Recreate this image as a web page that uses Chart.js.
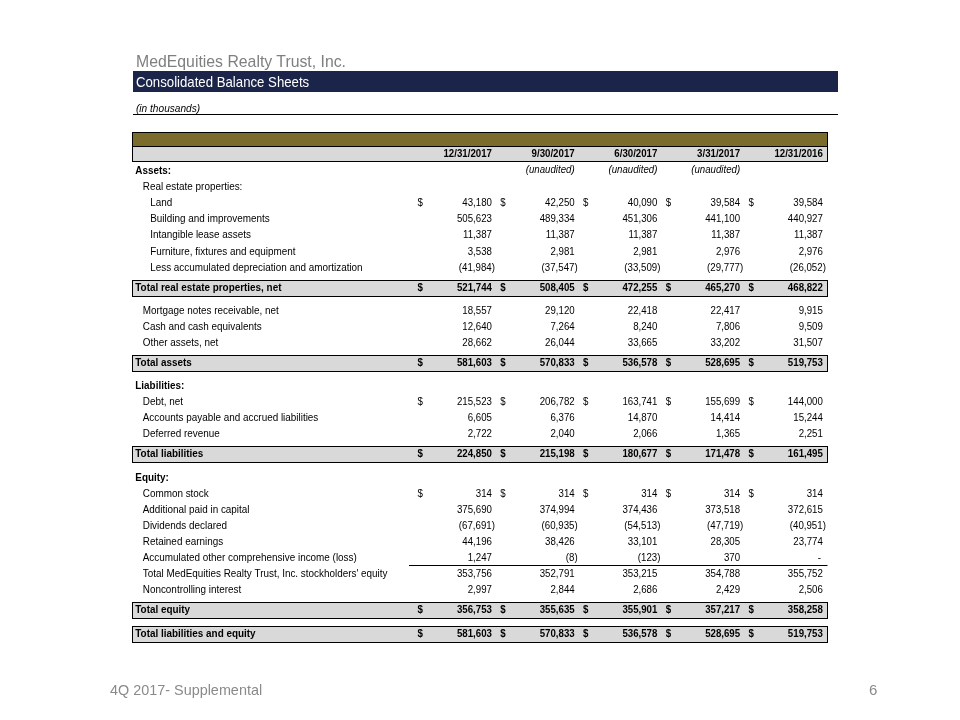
<!DOCTYPE html>
<html>
<head>
<meta charset="utf-8">
<title>Consolidated Balance Sheets</title>
<script src="https://cdn.jsdelivr.net/npm/chart.js@4.4.0/dist/chart.umd.min.js"></script>
<style>
  body { margin: 0; background: #fff; }
  #page { position: relative; width: 960px; height: 720px; overflow: hidden;
          font-family: "Liberation Sans", sans-serif; }
  #sheet { position: absolute; left: 0; top: 0; }
  .squeeze { display: inline-block; transform-origin: left center; white-space: nowrap; }
  .company { position: absolute; left: 136px; top: 51px; font-size: 17px; line-height: 22px; color: #7f7f7f; }
  .band { position: absolute; left: 133px; top: 71px; width: 705px; height: 21px; background: #1b2449;
          color: #fff; font-size: 15px; line-height: 21px; padding-left: 3px; box-sizing: border-box; }
  .units { position: absolute; left: 133px; top: 101px; width: 705px; height: 14px; border-bottom: 1px solid #000;
           font-style: italic; font-size: 11px; line-height: 14px; padding-left: 3px; box-sizing: border-box; }
  .foot { position: absolute; top: 681px; font-size: 15px; line-height: 18px; color: #8a8a8a; }
</style>
</head>
<body>
<div id="page">
  <canvas id="sheet" width="960" height="720"></canvas>
  <div class="company"><span class="squeeze" style="transform:scaleX(0.93)">MedEquities Realty Trust, Inc.</span></div>
  <div class="band"><span class="squeeze" style="transform:scaleX(0.88)">Consolidated Balance Sheets</span></div>
  <div class="units"><span class="squeeze" style="transform:scaleX(0.92)">(in thousands)</span></div>
  <div class="foot" style="left:110px"><span class="squeeze" style="transform:scaleX(0.96)">4Q 2017- Supplemental</span></div>
  <div class="foot" style="left:869px">6</div>
</div>
<script>
'use strict';

// column headers
const periods = ['12/31/2017', '9/30/2017', '6/30/2017', '3/31/2017', '12/31/2016'];
const auditStatus = ['', '(unaudited)', '(unaudited)', '(unaudited)', ''];

// line items (in thousands)
const land = [43180, 42250, 40090, 39584, 39584];
const buildings = [505623, 489334, 451306, 441100, 440927];
const leaseAssets = [11387, 11387, 11387, 11387, 11387];
const furniture = [3538, 2981, 2981, 2976, 2976];
const accumDepreciation = [-41984, -37547, -33509, -29777, -26052];
const totalRealEstate = [521744, 508405, 472255, 465270, 468822];
const mortgageNotes = [18557, 29120, 22418, 22417, 9915];
const cash = [12640, 7264, 8240, 7806, 9509];
const otherAssets = [28662, 26044, 33665, 33202, 31507];
const totalAssets = [581603, 570833, 536578, 528695, 519753];
const debt = [215523, 206782, 163741, 155699, 144000];
const accountsPayable = [6605, 6376, 14870, 14414, 15244];
const deferredRevenue = [2722, 2040, 2066, 1365, 2251];
const totalLiabilities = [224850, 215198, 180677, 171478, 161495];
const commonStock = [314, 314, 314, 314, 314];
const paidInCapital = [375690, 374994, 374436, 373518, 372615];
const dividends = [-67691, -60935, -54513, -47719, -40951];
const retainedEarnings = [44196, 38426, 33101, 28305, 23774];
const aoci = [1247, -8, -123, 370, 0];
const stockholdersEquity = [353756, 352791, 353215, 354788, 355752];
const noncontrolling = [2997, 2844, 2686, 2429, 2506];
const totalEquity = [356753, 355635, 355901, 357217, 358258];
const totalLiabEquity = [581603, 570833, 536578, 528695, 519753];

const rows = [
  { label: 'Assets:', kind: 'section' },
  { label: 'Real estate properties:', indent: 1 },
  { label: 'Land', values: land, indent: 2, dollar: true },
  { label: 'Building and improvements', values: buildings, indent: 2 },
  { label: 'Intangible lease assets', values: leaseAssets, indent: 2 },
  { label: 'Furniture, fixtures and equipment', values: furniture, indent: 2 },
  { label: 'Less accumulated depreciation and amortization', values: accumDepreciation, indent: 2 },
  { label: 'Total real estate properties, net', values: totalRealEstate, kind: 'total', dollar: true },
  { label: 'Mortgage notes receivable, net', values: mortgageNotes, indent: 1 },
  { label: 'Cash and cash equivalents', values: cash, indent: 1 },
  { label: 'Other assets, net', values: otherAssets, indent: 1 },
  { label: 'Total assets', values: totalAssets, kind: 'total', dollar: true },
  { label: 'Liabilities:', kind: 'section' },
  { label: 'Debt, net', values: debt, indent: 1, dollar: true },
  { label: 'Accounts payable and accrued liabilities', values: accountsPayable, indent: 1 },
  { label: 'Deferred revenue', values: deferredRevenue, indent: 1 },
  { label: 'Total liabilities', values: totalLiabilities, kind: 'total', dollar: true },
  { label: 'Equity:', kind: 'section' },
  { label: 'Common stock', values: commonStock, indent: 1, dollar: true },
  { label: 'Additional paid in capital', values: paidInCapital, indent: 1 },
  { label: 'Dividends declared', values: dividends, indent: 1 },
  { label: 'Retained earnings', values: retainedEarnings, indent: 1 },
  { label: 'Accumulated other comprehensive income (loss)', values: aoci, indent: 1, ruleBelow: true },
  { label: "Total MedEquities Realty Trust, Inc. stockholders' equity", values: stockholdersEquity, indent: 1 },
  { label: 'Noncontrolling interest', values: noncontrolling, indent: 1 },
  { label: 'Total equity', values: totalEquity, kind: 'total', dollar: true },
  { label: 'Total liabilities and equity', values: totalLiabEquity, kind: 'total', dollar: true }
];

// row positions on the y scale (one unit = one text line)
let pos = 2.45;
rows.forEach(function(r, i) {
  if (i > 0) {
    let prev = rows[i - 1].kind;
    if (r.kind === 'total') pos += prev === 'total' ? 1.5 : 1.25;
    else pos += prev === 'total' ? 1.45 : 1;
  }
  r.y = pos;
});
const lastRow = rows[rows.length - 1].y + 0.5;

const FONT = '"Liberation Sans", sans-serif';
const LABEL_START = -3.35;

let fmt = function(v) {
  if (v === 0) return '-';
  let s = Math.abs(v).toLocaleString('en-US');
  return v < 0 ? '(' + s + ')' : s;
};

// text drawn a bit condensed, closer to Calibri widths
let put = function(ctx, t, px, py, narrow) {
  ctx.fillText(t, px, py, ctx.measureText(t).width * (narrow || 0.88));
};

// invisible points at each value cell
let cells = [];
rows.forEach(function(r) {
  if (!r.values) return;
  r.values.forEach(function(v, j) { cells.push({ x: j + 0.5, y: r.y }); });
});

const tablePlugin = {
  id: 'balanceSheet',
  afterDraw: function(chart) {
    const ctx = chart.ctx, x = chart.scales.x, y = chart.scales.y;
    const left = Math.round(x.getPixelForValue(x.min)) + 0.5;
    const right = Math.round(x.getPixelForValue(x.max)) + 0.5;
    let py = function(v) { return Math.round(y.getPixelForValue(v)) + 0.5; };

    ctx.save();
    ctx.lineWidth = 1;
    ctx.strokeStyle = '#000';

    // header bands
    ctx.fillStyle = '#7b6c2b';
    ctx.fillRect(left, py(0), right - left, py(0.9) - py(0));
    ctx.fillStyle = '#d9d9d9';
    ctx.fillRect(left, py(0.9), right - left, py(1.8) - py(0.9));
    ctx.strokeRect(left, py(0), right - left, py(1.8) - py(0));
    ctx.beginPath();
    ctx.moveTo(left, py(0.9)); ctx.lineTo(right, py(0.9));
    ctx.stroke();

    ctx.fillStyle = '#000';
    ctx.textBaseline = 'middle';
    ctx.textAlign = 'right';
    ctx.font = 'bold 11px ' + FONT;
    periods.forEach(function(p, j) {
      put(ctx, p, x.getPixelForValue(j + 1), y.getPixelForValue(1.4));
    });
    ctx.font = 'italic 11px ' + FONT;
    auditStatus.forEach(function(a, j) {
      if (a) put(ctx, a, x.getPixelForValue(j + 1), y.getPixelForValue(rows[0].y) - 1);
    });

    rows.forEach(function(r) {
      const cy = y.getPixelForValue(r.y);
      const bold = r.kind === 'total' || r.kind === 'section';
      if (r.kind === 'total') {
        ctx.fillStyle = '#d9d9d9';
        ctx.fillRect(left, py(r.y - 0.5), right - left, py(r.y + 0.5) - py(r.y - 0.5));
        ctx.strokeRect(left, py(r.y - 0.5), right - left, py(r.y + 0.5) - py(r.y - 0.5));
      }
      if (r.ruleBelow) {
        ctx.beginPath();
        ctx.moveTo(Math.round(x.getPixelForValue(0)), py(r.y + 0.5) - 1);
        ctx.lineTo(right, py(r.y + 0.5) - 1);
        ctx.stroke();
      }
      ctx.fillStyle = '#000';
      ctx.font = (bold ? 'bold ' : '') + '11px ' + FONT;
      ctx.textAlign = 'left';
      put(ctx, r.label, x.getPixelForValue(LABEL_START + 0.04 + (r.indent || 0) * 0.09), cy, 0.9);
      if (!r.values) return;
      r.values.forEach(function(v, j) {
        if (r.dollar) {
          ctx.textAlign = 'left';
          put(ctx, '$', x.getPixelForValue(j + 0.1), cy);
        }
        ctx.textAlign = 'right';
        let edge = x.getPixelForValue(j + 1);
        if (v < 0) edge += 3;
        if (v === 0) edge -= 2;
        put(ctx, fmt(v), edge, cy);
      });
    });
    ctx.restore();
  }
};

new Chart(document.getElementById('sheet').getContext('2d'), {
  type: 'scatter',
  data: {
    datasets: [{ label: 'cells', data: cells, pointRadius: 0, pointHoverRadius: 0 }]
  },
  options: {
    responsive: false,
    animation: false,
    events: [],
    layout: { padding: { left: 132, right: 133, top: 132, bottom: 78 } },
    plugins: { legend: { display: false }, tooltip: { enabled: false } },
    scales: {
      x: { type: 'linear', display: false, min: LABEL_START, max: 5.05 },
      y: { type: 'linear', display: false, reverse: true, min: 0, max: lastRow }
    }
  },
  plugins: [tablePlugin]
});
</script>
</body>
</html>
